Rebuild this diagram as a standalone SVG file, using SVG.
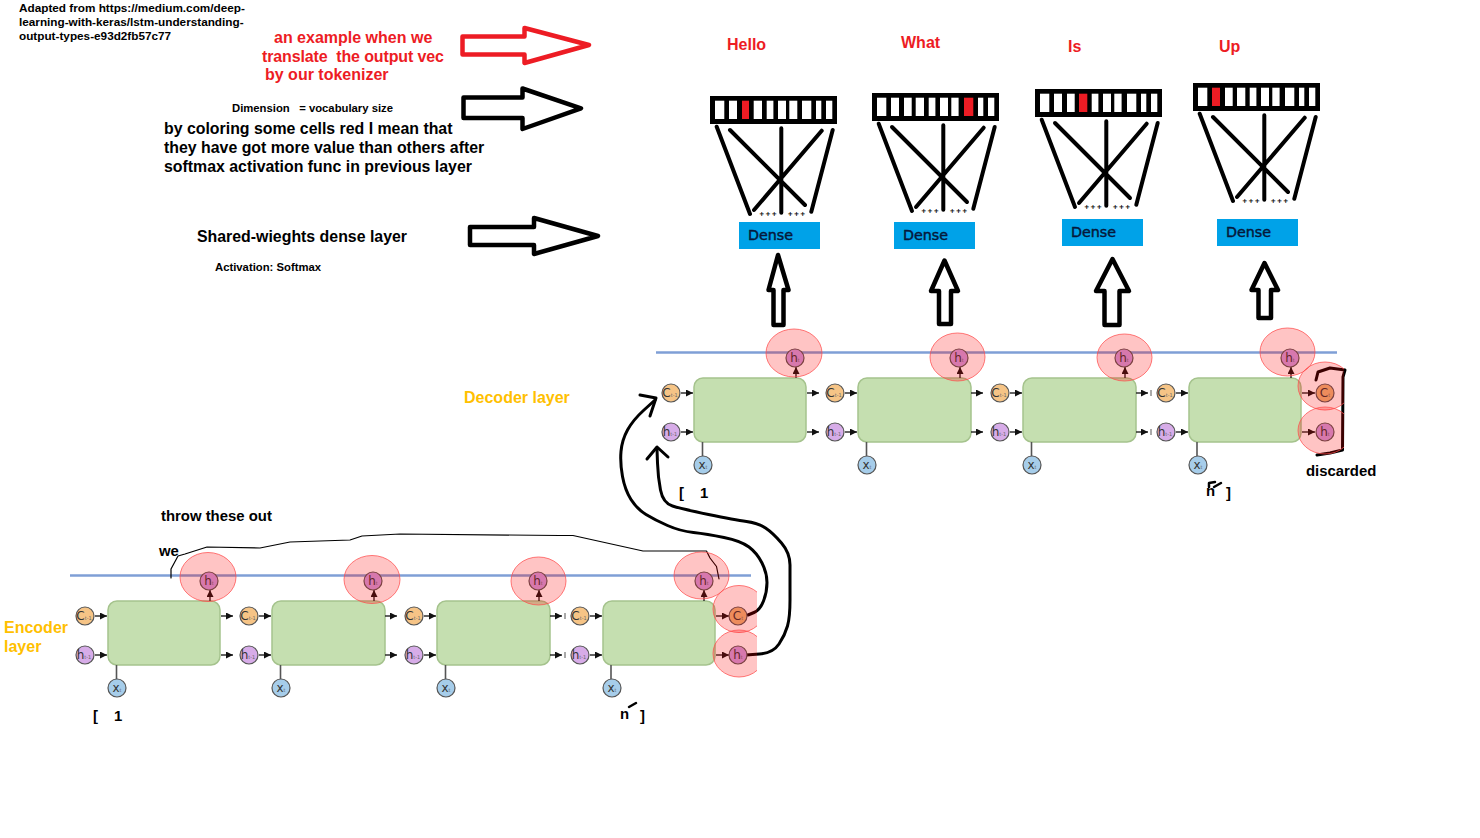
<svg xmlns="http://www.w3.org/2000/svg" width="1480" height="838" viewBox="0 0 1480 838">
<style>
text{font-family:"Liberation Sans",Arial,sans-serif;font-weight:bold;fill:#000}
.t11{font-size:11.300px}.cap{font-size:11.750px}.t16{font-size:15.880px}.t14{font-size:14.900px}
.red{fill:#ed1c24;font-size:16px}.gold{fill:#ffc000;font-size:16px}
.dense{font-family:"DejaVu Sans",sans-serif;font-weight:normal;font-size:14.300px;fill:#06183a;stroke:#06183a;stroke-width:.45px}
.n{font-family:"DejaVu Sans",sans-serif;font-weight:normal;font-size:12px;fill:#333;text-anchor:middle}
.s{font-size:5px;fill:#666}
.cell{fill:#c5dfb0;stroke:#a5c38d;stroke-width:1.5}
.nc{stroke:#555;stroke-width:1.2}
.co{fill:#f6c486}.hp{fill:#d7ace8}.xb{fill:#a6cdea}.ht{fill:#cc9ce2}.cf{fill:#e8b678}
.halo{fill:#ff0000;fill-opacity:.23;stroke:#ff4d4d;stroke-opacity:.75;stroke-width:1}
.blue{stroke:#7f9fd6;stroke-width:2.5;fill:none}
.ar{stroke:#222;stroke-width:1.4;fill:none;marker-end:url(#tip)}
.stem{stroke:#555;stroke-width:1.6;fill:none}
.tick{stroke:#555;stroke-width:1}
.hand{fill:none;stroke:#000;stroke-width:3;stroke-linecap:round;stroke-linejoin:round}
.block{fill:none;stroke:#000;stroke-width:4.5;stroke-linejoin:round}
.fan{stroke:#000;stroke-width:4;stroke-linecap:round;fill:none}
.bar{fill:#000}.w{fill:#fff}.r{fill:#ed1c24}
.dz{fill:#00a2e8}
.dots{font-family:"DejaVu Sans",sans-serif;font-size:6.500px;letter-spacing:.8px}
</style>
<defs>
<marker id="tip" markerWidth="8" markerHeight="8" refX="7" refY="3.500" orient="auto" markerUnits="userSpaceOnUse"><path d="M0 0L7 3.500L0 7z" fill="#111"/></marker>
<clipPath id="clipE"><rect x="700" y="570" width="57" height="120"/></clipPath>
<clipPath id="clipD"><rect x="1285" y="350" width="59" height="120"/></clipPath>
</defs>

<g id="caption">
<text class="cap" x="19" y="12">Adapted from https://medium.com/deep-</text>
<text class="cap" x="19" y="26">learning-with-keras/lstm-understanding-</text>
<text class="cap" x="19" y="40">output-types-e93d2fb57c77</text>
</g>
<g id="note-red">
<text class="red" x="274" y="43">an example when we</text>
<text class="red" x="262" y="62" xml:space="preserve" textLength="182">translate  the output vec</text>
<text class="red" x="265" y="80">by our tokenizer</text>
</g>
<g id="note-dim">
<text class="t11" x="232" y="112" xml:space="preserve">Dimension   = vocabulary size</text>
<text class="t16" x="164" y="134">by coloring some cells red I mean that</text>
<text class="t16" x="164" y="153">they have got more value than others after</text>
<text class="t16" x="164" y="172">softmax activation func in previous layer</text>
</g>
<g id="note-dense">
<text class="t16" x="197" y="242">Shared-wieghts dense layer</text>
<text class="t11" x="215" y="271">Activation: Softmax</text>
</g>
<g id="label-decoder"><text class="gold" x="464" y="403">Decoder layer</text></g>
<g id="label-encoder"><text class="gold" x="4" y="633">Encoder</text><text class="gold" x="4" y="652">layer</text></g>
<g id="label-throw"><text class="t14" x="161" y="521">throw these out</text><text class="t14" x="159" y="556">we</text></g>
<g id="label-discarded"><text class="t14" x="1306" y="476">discarded</text></g>
<g id="enc-range"><text class="t14" x="93" y="721">[</text><text class="t14" x="114" y="721">1</text><text class="t14" x="620" y="719">n</text><text class="t14" x="640" y="721">]</text></g>
<g id="dec-range"><text class="t14" x="679" y="498">[</text><text class="t14" x="700" y="498">1</text><text class="t14" x="1206" y="496">n</text><text class="t14" x="1226" y="498">]</text></g>
<g id="words">
<text class="red" x="727" y="50">Hello</text>
<text class="red" x="901" y="48">What</text>
<text class="red" x="1068" y="52">Is</text>
<text class="red" x="1219" y="52">Up</text>
</g>

<g id="timelines"><line class="blue" x1="70" y1="575.5" x2="751" y2="575.5"/><line class="blue" x1="656" y1="352.5" x2="1337" y2="352.5"/></g>

<g id="enc-cell-1"><rect class="cell" x="108" y="601" width="112" height="64" rx="9"/></g>
<g id="enc-cell-2"><rect class="cell" x="272" y="601" width="113" height="64" rx="9"/></g>
<g id="enc-cell-3"><rect class="cell" x="437" y="601" width="113" height="64" rx="9"/></g>
<g id="enc-cell-4"><rect class="cell" x="603" y="601" width="112" height="64" rx="9"/></g>
<g id="dec-cell-1"><rect class="cell" x="694" y="378" width="112" height="64" rx="9"/></g>
<g id="dec-cell-2"><rect class="cell" x="858" y="378" width="113" height="64" rx="9"/></g>
<g id="dec-cell-3"><rect class="cell" x="1023" y="378" width="113" height="64" rx="9"/></g>
<g id="dec-cell-4"><rect class="cell" x="1189" y="378" width="112" height="64" rx="9"/></g>

<g id="connectors">
<path class="ar" d="M95 616H107"/><path class="ar" d="M95 655H107"/><path class="ar" d="M221 616H233"/><path class="ar" d="M221 655H233"/>
<path class="ar" d="M259 616H271"/><path class="ar" d="M259 655H271"/><path class="ar" d="M385 616H397"/><path class="ar" d="M385 655H397"/>
<path class="ar" d="M424 616H436"/><path class="ar" d="M424 655H436"/><path class="ar" d="M550 616H562"/><path class="ar" d="M550 655H562"/>
<path class="ar" d="M590 616H602"/><path class="ar" d="M590 655H602"/><path class="ar" d="M716 616H729"/><path class="ar" d="M716 655H729"/>
<path class="ar" d="M681 393H693"/><path class="ar" d="M681 432H693"/><path class="ar" d="M807 393H819"/><path class="ar" d="M807 432H819"/>
<path class="ar" d="M845 393H857"/><path class="ar" d="M845 432H857"/><path class="ar" d="M971 393H983"/><path class="ar" d="M971 432H983"/>
<path class="ar" d="M1010 393H1022"/><path class="ar" d="M1010 432H1022"/><path class="ar" d="M1136 393H1148"/><path class="ar" d="M1136 432H1148"/>
<path class="ar" d="M1176 393H1188"/><path class="ar" d="M1176 432H1188"/><path class="ar" d="M1302 393H1315"/><path class="ar" d="M1302 432H1315"/>
<path class="ar" d="M210 601V590"/><path class="ar" d="M374 601V590"/><path class="ar" d="M539 601V590"/><path class="ar" d="M704 601V590"/>
<path class="ar" d="M796 378V367"/><path class="ar" d="M960 378V367"/><path class="ar" d="M1125 378V367"/><path class="ar" d="M1291 378V367"/>
<path class="stem" d="M116.500 665V679M280.500 665V679M445.500 665V679M611 665V679M702.500 442V456M866.500 442V456M1031.500 442V456M1197 442V456"/>
<path class="tick" d="M565 613V619M565 652V658M1151 390V396M1151 429V435"/>
<path class="hand" style="stroke-width:1.200" d="M171 578L171 569L178 556L185 554L207 547L260 548L290 542L350 540L362 536L400 534L560 535.500L573 535.500L643 551L706.500 551L710 558L716.500 566.500L719 579"/>
<path class="hand" d="M748 615L754 612.500Q760 610 763.500 601Q767 592 767 582.500Q767 573 762 563Q757 553 749 547Q741 541 724 537.500Q707 534 693.500 532.500Q680 531 667.500 525.500Q655 520 646 514.500Q637 509 631 499.500Q625 490 622.500 476.500Q620 463 621 451.500Q622 440 627.500 430Q633 420 644 410L655 400"/>
<path class="hand" d="M640 395L656 398L650 416"/>
<path class="hand" d="M746 655L759.500 654Q773 653 779 644Q785 635 787.500 626Q790 617 790 600L790 565Q790 553 781.500 543Q773 533 765.500 528Q758 523 746.500 521.500Q735 520 708.500 514.500Q682 509 672.500 506Q663 503 660.500 490Q658 477 657.500 463L657 449"/>
<path class="hand" d="M647 459L657 447L668 457"/>
<path class="hand" d="M1316 380L1318 372L1330 368L1345 370L1343 377L1342.500 450L1330 453L1317 455"/>
<path class="hand" d="M629 707L636 703" style="stroke-width:2.500"/>
<path class="hand" d="M1209 487V483L1215 482M1214 487L1221 483" style="stroke-width:2.500"/>
</g>

<g id="enc-c1" transform="translate(85,616)"><circle class="co nc" r="9"/><text class="n" y="4" x="-1">C<tspan class="s">t-1</tspan></text></g>
<g id="enc-h1" transform="translate(85,655)"><circle class="hp nc" r="9"/><text class="n" y="4" x="-1">h<tspan class="s">t-1</tspan></text></g>
<g id="enc-x1" transform="translate(117,688)"><circle class="xb nc" r="9"/><text class="n" y="4">x<tspan class="s">t</tspan></text></g>
<g id="enc-o1" transform="translate(209,581)"><circle class="ht nc" r="9"/><text class="n" y="4">h<tspan class="s">t</tspan></text></g>
<g id="enc-c2" transform="translate(249,616)"><circle class="co nc" r="9"/><text class="n" y="4" x="-1">C<tspan class="s">t-1</tspan></text></g>
<g id="enc-h2" transform="translate(249,655)"><circle class="hp nc" r="9"/><text class="n" y="4" x="-1">h<tspan class="s">t-1</tspan></text></g>
<g id="enc-x2" transform="translate(281,688)"><circle class="xb nc" r="9"/><text class="n" y="4">x<tspan class="s">t</tspan></text></g>
<g id="enc-o2" transform="translate(373,581)"><circle class="ht nc" r="9"/><text class="n" y="4">h<tspan class="s">t</tspan></text></g>
<g id="enc-c3" transform="translate(414,616)"><circle class="co nc" r="9"/><text class="n" y="4" x="-1">C<tspan class="s">t-1</tspan></text></g>
<g id="enc-h3" transform="translate(414,655)"><circle class="hp nc" r="9"/><text class="n" y="4" x="-1">h<tspan class="s">t-1</tspan></text></g>
<g id="enc-x3" transform="translate(446,688)"><circle class="xb nc" r="9"/><text class="n" y="4">x<tspan class="s">t</tspan></text></g>
<g id="enc-o3" transform="translate(538,581)"><circle class="ht nc" r="9"/><text class="n" y="4">h<tspan class="s">t</tspan></text></g>
<g id="enc-c4" transform="translate(580,616)"><circle class="co nc" r="9"/><text class="n" y="4" x="-1">C<tspan class="s">t-1</tspan></text></g>
<g id="enc-h4" transform="translate(580,655)"><circle class="hp nc" r="9"/><text class="n" y="4" x="-1">h<tspan class="s">t-1</tspan></text></g>
<g id="enc-x4" transform="translate(612,688)"><circle class="xb nc" r="9"/><text class="n" y="4">x<tspan class="s">t</tspan></text></g>
<g id="enc-o4" transform="translate(704,581)"><circle class="ht nc" r="9"/><text class="n" y="4">h<tspan class="s">t</tspan></text></g>
<g id="enc-cf" transform="translate(738,616)"><circle class="cf nc" r="9"/><text class="n" y="4">C<tspan class="s">t</tspan></text></g>
<g id="enc-hf" transform="translate(738,655)"><circle class="ht nc" r="9"/><text class="n" y="4">h<tspan class="s">t</tspan></text></g>

<g id="dec-c1" transform="translate(671,393)"><circle class="co nc" r="9"/><text class="n" y="4" x="-1">C<tspan class="s">t-1</tspan></text></g>
<g id="dec-h1" transform="translate(671,432)"><circle class="hp nc" r="9"/><text class="n" y="4" x="-1">h<tspan class="s">t-1</tspan></text></g>
<g id="dec-x1" transform="translate(703,465)"><circle class="xb nc" r="9"/><text class="n" y="4">x<tspan class="s">t</tspan></text></g>
<g id="dec-o1" transform="translate(795,358)"><circle class="ht nc" r="9"/><text class="n" y="4">h<tspan class="s">t</tspan></text></g>
<g id="dec-c2" transform="translate(835,393)"><circle class="co nc" r="9"/><text class="n" y="4" x="-1">C<tspan class="s">t-1</tspan></text></g>
<g id="dec-h2" transform="translate(835,432)"><circle class="hp nc" r="9"/><text class="n" y="4" x="-1">h<tspan class="s">t-1</tspan></text></g>
<g id="dec-x2" transform="translate(867,465)"><circle class="xb nc" r="9"/><text class="n" y="4">x<tspan class="s">t</tspan></text></g>
<g id="dec-o2" transform="translate(959,358)"><circle class="ht nc" r="9"/><text class="n" y="4">h<tspan class="s">t</tspan></text></g>
<g id="dec-c3" transform="translate(1000,393)"><circle class="co nc" r="9"/><text class="n" y="4" x="-1">C<tspan class="s">t-1</tspan></text></g>
<g id="dec-h3" transform="translate(1000,432)"><circle class="hp nc" r="9"/><text class="n" y="4" x="-1">h<tspan class="s">t-1</tspan></text></g>
<g id="dec-x3" transform="translate(1032,465)"><circle class="xb nc" r="9"/><text class="n" y="4">x<tspan class="s">t</tspan></text></g>
<g id="dec-o3" transform="translate(1124,358)"><circle class="ht nc" r="9"/><text class="n" y="4">h<tspan class="s">t</tspan></text></g>
<g id="dec-c4" transform="translate(1166,393)"><circle class="co nc" r="9"/><text class="n" y="4" x="-1">C<tspan class="s">t-1</tspan></text></g>
<g id="dec-h4" transform="translate(1166,432)"><circle class="hp nc" r="9"/><text class="n" y="4" x="-1">h<tspan class="s">t-1</tspan></text></g>
<g id="dec-x4" transform="translate(1198,465)"><circle class="xb nc" r="9"/><text class="n" y="4">x<tspan class="s">t</tspan></text></g>
<g id="dec-o4" transform="translate(1290,358)"><circle class="ht nc" r="9"/><text class="n" y="4">h<tspan class="s">t</tspan></text></g>
<g id="dec-cf" transform="translate(1325,393)"><circle class="cf nc" r="9"/><text class="n" y="4">C<tspan class="s">t</tspan></text></g>
<g id="dec-hf" transform="translate(1325,432)"><circle class="ht nc" r="9"/><text class="n" y="4">h<tspan class="s">t</tspan></text></g>

<g id="highlights">
<ellipse class="halo" cx="208" cy="577" rx="28" ry="24.500"/>
<ellipse class="halo" cx="372" cy="579.500" rx="28" ry="24"/>
<ellipse class="halo" cx="538.500" cy="581" rx="27.500" ry="24"/>
<ellipse class="halo" cx="701.500" cy="575.500" rx="27.500" ry="23.500"/>
<ellipse class="halo" cx="739" cy="609" rx="26" ry="23.500" clip-path="url(#clipE)"/>
<ellipse class="halo" cx="739" cy="653.500" rx="26" ry="23.500" clip-path="url(#clipE)"/>
<ellipse class="halo" cx="794" cy="353" rx="28" ry="24"/>
<ellipse class="halo" cx="957.500" cy="357" rx="27.500" ry="24"/>
<ellipse class="halo" cx="1124.500" cy="357.500" rx="27.500" ry="23.500"/>
<ellipse class="halo" cx="1287.500" cy="352" rx="27.500" ry="24"/>
<ellipse class="halo" cx="1325" cy="386" rx="27" ry="24" clip-path="url(#clipD)"/>
<ellipse class="halo" cx="1325" cy="430.500" rx="27" ry="23.500" clip-path="url(#clipD)"/>
</g>

<g id="side-arrow-red"><path class="block" style="stroke:#ed1c24" d="M462.500 36.500H524.500V28L589 45L524.500 63V54.500H462.500Z"/></g>
<g id="side-arrow-dim"><path class="block" d="M463.500 97.500H522.500V88.500L581 108.300L522.500 129V118H463.500Z"/></g>
<g id="side-arrow-dense"><path class="block" d="M470 227H534V218L598 236L534 254V245H470Z"/></g>

<g id="up-arrow-1"><path class="block" d="M778 255L788.500 290H783.500V325H773.500V290H768.500Z"/></g>
<g id="up-arrow-2"><path class="block" d="M944.500 260.500L958 291H951V324H939V291H931Z"/></g>
<g id="up-arrow-3"><path class="block" d="M1112.500 259L1129 291H1119.500V325H1104.500V291H1096Z"/></g>
<g id="up-arrow-4"><path class="block" d="M1264.500 263L1278 290H1271V318H1258.500V290H1251.500Z"/></g>

<g id="dense-1"><rect class="dz" x="739" y="222" width="81" height="27"/><text class="dense" x="748" y="240">Dense</text></g>
<g id="dense-2"><rect class="dz" x="894" y="222" width="81" height="27"/><text class="dense" x="903" y="240">Dense</text></g>
<g id="dense-3"><rect class="dz" x="1062" y="219" width="81" height="27"/><text class="dense" x="1071" y="237">Dense</text></g>
<g id="dense-4"><rect class="dz" x="1217" y="219" width="81" height="27"/><text class="dense" x="1226" y="237">Dense</text></g>

<g id="vec-1" transform="translate(710,96)">
<rect class="bar" width="127" height="28"/>
<rect class="w" x="5" y="4.700" width="9.300" height="18.300"/><rect class="w" x="19" y="4.700" width="8" height="18.300"/><rect class="r" x="32" y="4.700" width="7" height="18.300"/><rect class="w" x="43.700" y="4.700" width="8.300" height="18.300"/><rect class="w" x="56.700" y="4.700" width="6.700" height="18.300"/><rect class="w" x="68" y="4.700" width="8" height="18.300"/><rect class="w" x="79.300" y="4.700" width="8" height="18.300"/><rect class="w" x="92" y="4.700" width="9.300" height="18.300"/><rect class="w" x="106" y="4.700" width="5.300" height="18.300"/><rect class="w" x="116" y="4.700" width="6.300" height="18.300"/>
<path class="fan" d="M6.700 30.700L40 118M20 34L95 109M71.300 32.300V116.700M111.700 34.700L44 114M122.700 34L101.300 115.700"/>
<text class="dots" x="49" y="120">+++</text><text class="dots" x="77.500" y="120">+++</text>
</g>
<g id="vec-2" transform="translate(872,93)">
<rect class="bar" width="127" height="28"/>
<rect class="w" x="5" y="4.700" width="9.300" height="18.300"/><rect class="w" x="19" y="4.700" width="8" height="18.300"/><rect class="w" x="32" y="4.700" width="7.700" height="18.300"/><rect class="w" x="43.700" y="4.700" width="8.300" height="18.300"/><rect class="w" x="56.700" y="4.700" width="6.700" height="18.300"/><rect class="w" x="68" y="4.700" width="8" height="18.300"/><rect class="w" x="79.300" y="4.700" width="7.300" height="18.300"/><rect class="r" x="92" y="4.700" width="9.300" height="18.300"/><rect class="w" x="106" y="4.700" width="5.300" height="18.300"/><rect class="w" x="116" y="4.700" width="6.300" height="18.300"/>
<path class="fan" d="M6.700 30.700L40 118M20 34L95 109M71.300 32.300V116.700M111.700 34.700L44 114M122.700 34L101.300 115.700"/>
<text class="dots" x="49" y="120">+++</text><text class="dots" x="77.500" y="120">+++</text>
</g>
<g id="vec-3" transform="translate(1035,89)">
<rect class="bar" width="127" height="28"/>
<rect class="w" x="5" y="4.700" width="9.300" height="18.300"/><rect class="w" x="19" y="4.700" width="8" height="18.300"/><rect class="w" x="32" y="4.700" width="7.700" height="18.300"/><rect class="r" x="44" y="4.700" width="8.300" height="18.300"/><rect class="w" x="56.700" y="4.700" width="6.700" height="18.300"/><rect class="w" x="68" y="4.700" width="8" height="18.300"/><rect class="w" x="79.300" y="4.700" width="7.300" height="18.300"/><rect class="w" x="92" y="4.700" width="9.300" height="18.300"/><rect class="w" x="106" y="4.700" width="5.300" height="18.300"/><rect class="w" x="116" y="4.700" width="6.300" height="18.300"/>
<path class="fan" d="M6.700 30.700L40 118M20 34L95 109M71.300 32.300V116.700M111.700 34.700L44 114M122.700 34L101.300 115.700"/>
<text class="dots" x="49" y="120">+++</text><text class="dots" x="77.500" y="120">+++</text>
</g>
<g id="vec-4" transform="translate(1193,83)">
<rect class="bar" width="127" height="28"/>
<rect class="w" x="5" y="4.700" width="9.300" height="18.300"/><rect class="r" x="19" y="4.700" width="8" height="18.300"/><rect class="w" x="32" y="4.700" width="7.700" height="18.300"/><rect class="w" x="44" y="4.700" width="8.300" height="18.300"/><rect class="w" x="56.700" y="4.700" width="6.700" height="18.300"/><rect class="w" x="68" y="4.700" width="8" height="18.300"/><rect class="w" x="79.300" y="4.700" width="7.300" height="18.300"/><rect class="w" x="92" y="4.700" width="9.300" height="18.300"/><rect class="w" x="106" y="4.700" width="5.300" height="18.300"/><rect class="w" x="116" y="4.700" width="6.300" height="18.300"/>
<path class="fan" d="M6.700 30.700L40 118M20 34L95 109M71.300 32.300V116.700M111.700 34.700L44 114M122.700 34L101.300 115.700"/>
<text class="dots" x="49" y="120">+++</text><text class="dots" x="77.500" y="120">+++</text>
</g>
</svg>
